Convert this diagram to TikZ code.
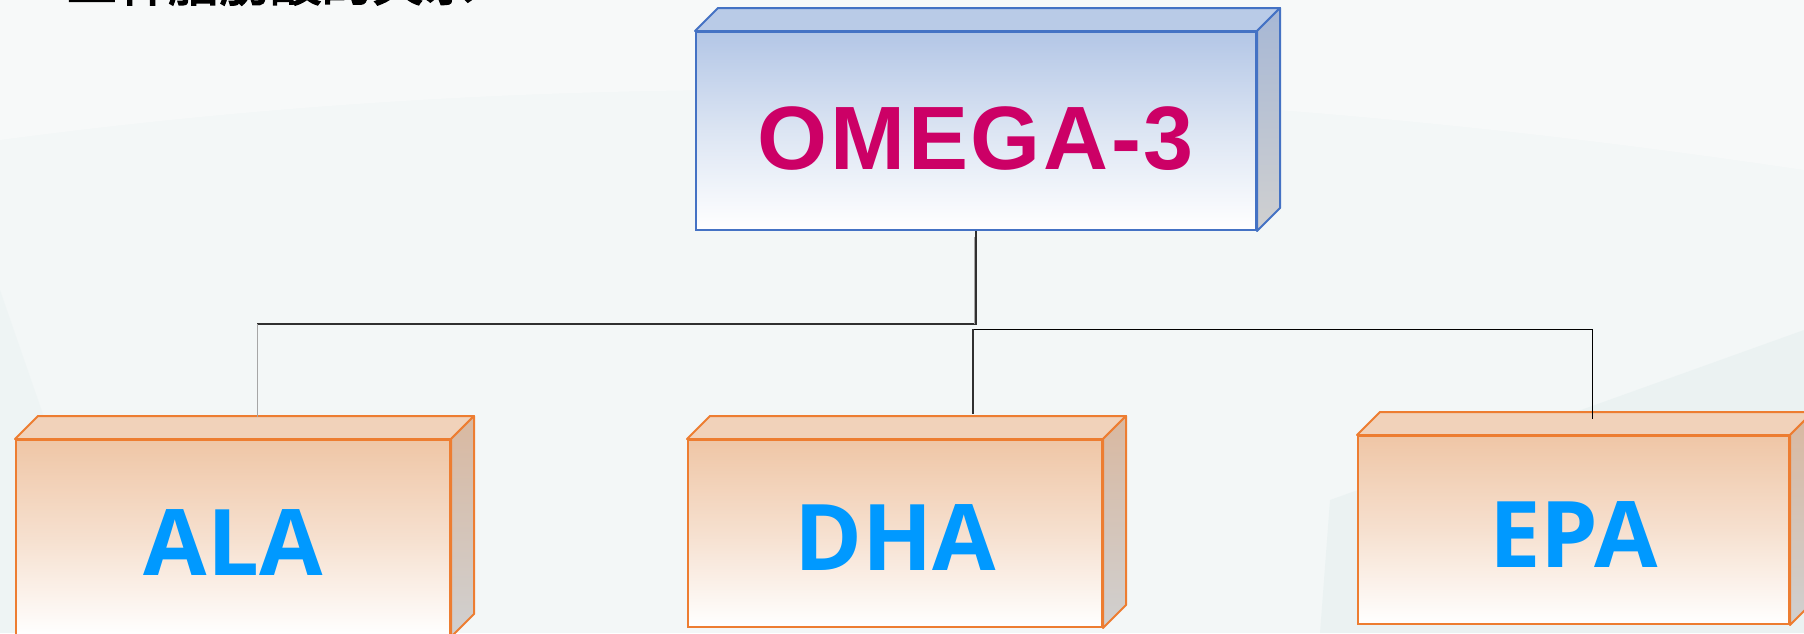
\documentclass[tikz,border=0pt]{standalone}
\usepackage{fontspec}
\setmainfont{Liberation Sans}
\newfontfamily\acidfont{Open Sans}
\newfontfamily\cjkfont[AutoFakeBold=3]{Noto Sans CJK SC}
\definecolor{bgbase}{HTML}{F3F7F7}
\definecolor{bgtint}{HTML}{E8F1F1}
\definecolor{bglight}{HTML}{F7F9F9}
\definecolor{blueline}{HTML}{4472C4}
\definecolor{bluefront}{HTML}{B3C6E6}
\definecolor{bluemid}{HTML}{DCE5F3}
\definecolor{bluetopface}{HTML}{B9CBE7}
\definecolor{bluesidetop}{HTML}{A6B7D5}
\definecolor{sidegray}{HTML}{D0D0D0}
\definecolor{orangeline}{HTML}{ED7D31}
\definecolor{orangefront}{HTML}{EFC6A6}
\definecolor{orangemid}{HTML}{F6E0CF}
\definecolor{orangetopface}{HTML}{F1D2BA}
\definecolor{orangesidetop}{HTML}{D9B8A0}
\definecolor{omegatext}{HTML}{CC0066}
\definecolor{acidtext}{HTML}{0099FF}
\definecolor{wire}{HTML}{303030}

% top and right faces of a box whose front face is node #1
\newcommand\boxfaces[2]{%
  \filldraw[#2top] (#1.north west) -- ([shift={(23,-23)}]#1.north west)
     -- ([shift={(23,-23)}]#1.north east) -- (#1.north east) -- cycle;
  \filldraw[#2side] (#1.north east) -- ([shift={(23,-23)}]#1.north east)
     -- ([shift={(23,-23)}]#1.south east) -- (#1.south east) -- cycle;
}

\begin{document}
\begin{tikzpicture}[x=0.5pt,y=-0.5pt,
  front/.style={draw, line width=1pt, inner sep=0pt, text depth=0pt},
  bluebox/.style={front, draw=blueline, top color=bluefront,
    bottom color=white, middle color=bluemid, text=omegatext,
    text height=38.5pt,
    font=\addfontfeatures{LetterSpace=3}\bfseries\fontsize{45}{45}\selectfont},
  orangebox/.style={front, draw=orangeline, top color=orangefront,
    bottom color=white, middle color=orangemid, text=acidtext,
    text height=37pt,
    font=\acidfont\bfseries\fontsize{46}{46}\selectfont},
  bluetop/.style={draw=blueline, line width=1pt, fill=bluetopface, line join=round},
  blueside/.style={draw=blueline, line width=1pt, top color=bluesidetop,
    bottom color=sidegray, line join=round},
  orangetop/.style={draw=orangeline, line width=1pt, fill=orangetopface, line join=round},
  orangeside/.style={draw=orangeline, line width=1pt, top color=orangesidetop,
    bottom color=sidegray, line join=round},
  conn/.style={draw=wire, line width=0.7pt},
  thinconn/.style={draw=black, line width=0.5pt},
  paleconn/.style={draw=gray!70, line width=0.5pt}]

\useasboundingbox (0,0) rectangle (1804,633);
% backdrop with faint facets
\fill[bgbase] (0,0) rectangle (1804,633);
\fill[bglight] (0,140) .. controls (600,60) and (1200,80) .. (1804,170) -- (1804,0) -- (0,0) -- cycle;
\fill[bgtint, opacity=0.7] (1320,633) -- (1330,500) -- (1804,330) -- (1804,633) -- cycle;
\fill[bgtint, opacity=0.4] (0,290) -- (45,420) -- (20,633) -- (0,633) -- cycle;

% heading running off the top edge
\node[anchor=base west, inner sep=0pt,
  font=\cjkfont\bfseries\fontsize{25.5}{25.5}\selectfont] (title) at (66,1) {三种脂肪酸的关系};

% boxes
\node[bluebox, minimum width=280pt, minimum height=99pt] (omega) at (976,131) {OMEGA-3};
\boxfaces{omega}{blue}

\node[orangebox, minimum width=217pt, minimum height=98pt] (ala) at (233,538) {ALA};
\boxfaces{ala}{orange}

\node[orangebox, minimum width=207pt, minimum height=93.5pt] (dha) at (895,533.5) {DHA};
\boxfaces{dha}{orange}

\node[orangebox, minimum width=215.5pt, minimum height=94pt] (epa) at (1573.5,530) {EPA};
\boxfaces{epa}{orange}

% junctions and connector ends
\coordinate (j1) at (976,324);
\coordinate (g0) at (974,237);
\coordinate (g1) at (974,324);
\coordinate (j2) at (973,329);
\coordinate (alaT) at (257,417);
\coordinate (dhaT) at (973,414);
\coordinate (epaT) at (1592,419);

\draw[conn] (omega.south) -- (j1) -- (alaT |- j1);
\draw[paleconn] (g0) -- (g1);
\draw[paleconn] (alaT |- j1) -- (alaT);
\draw[thinconn] (j2) -| (epaT);
\draw[conn] (j2) -- (dhaT);
\end{tikzpicture}
\end{document}
